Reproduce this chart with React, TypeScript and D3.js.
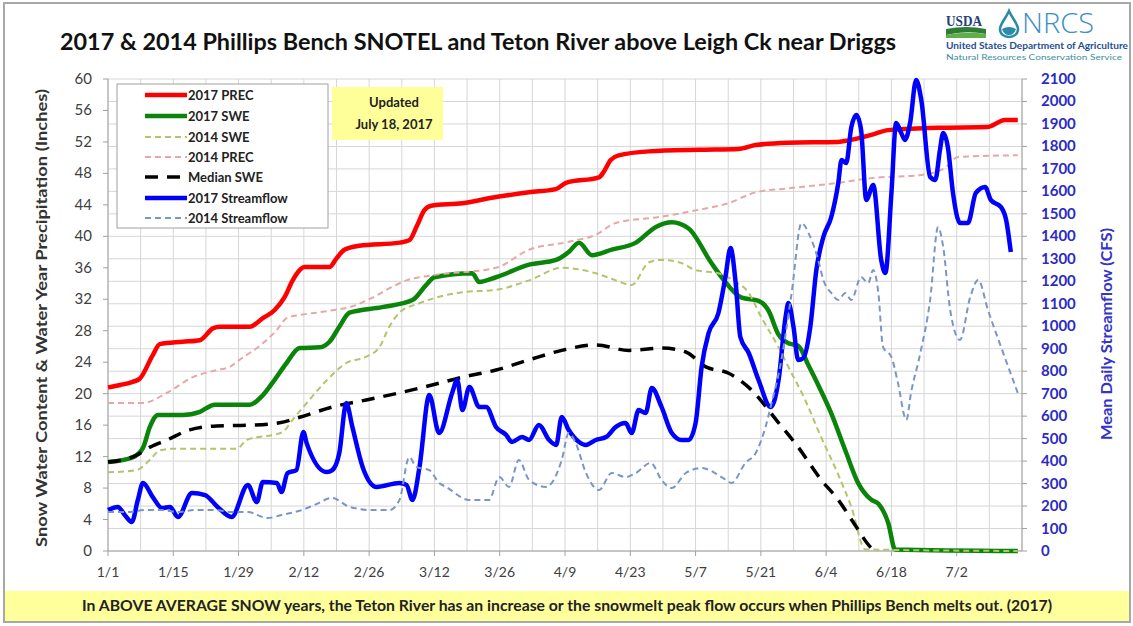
import React from 'react';
import * as d3 from 'd3';

const W = 1133;
const H = 626;

// ---------- DATA (day index from Jan 1, value) ----------
const xTickDays = [0, 14, 28, 42, 56, 70, 84, 98, 112, 126, 140, 154, 168, 182];
const xTickLabels = ['1/1', '1/15', '1/29', '2/12', '2/26', '3/12', '3/26', '4/9', '4/23', '5/7', '5/21', '6/4', '6/18', '7/2'];
const leftTicks = [0, 4, 8, 12, 16, 20, 24, 28, 32, 36, 40, 44, 48, 52, 56, 60];
const rightTicks = [0, 100, 200, 300, 400, 500, 600, 700, 800, 900, 1000, 1100, 1200, 1300, 1400, 1500, 1600, 1700, 1800, 1900, 2000, 2100];

const prec2017: [number, number][] = [
  [0, 20.8], [2.6, 21.1], [5.3, 21.5], [6.8, 21.9], [9.6, 24.9], [11.1, 26.3], [16, 26.6], [19.7, 26.8],
  [22.5, 28.3], [24, 28.5], [30.4, 28.5], [33.2, 29.6], [35.7, 30.6], [37.9, 32.3], [39.6, 34.4], [41.1, 35.7],
  [42.1, 36.1], [47.5, 36.1], [49, 37.2], [50.7, 38.3], [53.9, 38.8], [62.5, 39.2], [64.6, 39.5], [66.3, 41.4],
  [67.8, 43.3], [69.3, 43.9], [76, 44.2], [83.2, 45], [90.3, 45.6], [96, 46], [98.2, 46.8], [105.3, 47.5],
  [106.3, 48.2], [107.8, 49.7], [109.5, 50.3], [116, 50.8], [126.7, 51], [135.2, 51.1], [138.9, 51.6],
  [145.9, 51.9], [156.6, 52], [158.8, 52.2], [163.7, 52.9], [167.3, 53.5], [178, 53.8], [188.7, 53.9],
  [192.3, 54.8], [195.1, 54.8],
];

const swe2017: [number, number][] = [
  [0, 11.3], [5.3, 11.9], [7.5, 13.1], [9, 15.8], [10.7, 17.3], [16, 17.3], [19.7, 17.7], [22.9, 18.6],
  [30.4, 18.6], [33.2, 19.8], [35.3, 21.4], [38.3, 23.9], [41.1, 25.8], [45.4, 25.9], [47.5, 26.6],
  [49.6, 28.5], [51.8, 30.3], [58.8, 31], [65.3, 31.9], [68.2, 33.8], [70, 34.8], [78.1, 35.3], [79.6, 34.2],
  [83.2, 34.8], [90.3, 36.4], [96.1, 37], [98.8, 38], [101, 39.2], [103.8, 37.6], [108, 38.3], [113.2, 39.2],
  [117.5, 41.2], [120.9, 41.8], [124.5, 41], [129.4, 36.6], [131.6, 34.8], [135.9, 32.2], [139.5, 31.8],
  [141.6, 30.6], [143.8, 27.5], [145.9, 26.4], [148, 26.1], [150.2, 23.6], [152.3, 21.1], [155.1, 17.5],
  [158.1, 12.8], [160.9, 8.6], [163.7, 6.5], [165.2, 6], [167.3, 3.6], [168.8, 0.2], [195.1, 0],
];

const swe2014: [number, number][] = [
  [0, 10], [6.2, 10.3], [9, 11.6], [11.1, 12.8], [13.9, 13], [27.6, 13], [29.7, 14.1], [37.4, 15.1],
  [39.6, 16.7], [42.6, 18.8], [46.9, 21.7], [51.1, 23.9], [55.4, 24.7], [58.2, 25.9], [60.3, 28.5],
  [62.5, 30.3], [66.8, 31.5], [76, 32.9], [83.2, 33.2], [90.3, 34.4], [97.3, 36], [104.6, 35.3],
  [108.9, 34.4], [112.3, 33.8], [116, 36.7], [118.7, 37], [123, 36.6], [126, 35.7], [130.9, 35.3],
  [134.1, 34.4], [137.4, 32.8], [140.1, 29.7], [143.8, 25.9], [145.9, 23.4], [149.5, 19.2], [152.9, 14.5],
  [156.6, 9.7], [159.4, 5.6], [162.4, 0.2], [195.1, 0],
];

const prec2014: [number, number][] = [
  [0, 18.8], [7.5, 18.8], [12.6, 20.1], [18.2, 22.1], [23.3, 23], [26.1, 23.4], [28.2, 24.3], [33.2, 26.4],
  [36.2, 28.1], [38.3, 29.6], [41.1, 30], [44.7, 30.3], [48.1, 30.6], [51.8, 31], [56.7, 32.2], [61, 33.6],
  [64, 34.4], [68.9, 35], [83.2, 36], [90.3, 38.3], [98.8, 39.3], [104.6, 40.2], [108.9, 41.7], [118.7, 42.5],
  [126, 43.3], [133, 44.2], [138.9, 45.6], [145.9, 46.1], [156.6, 46.8], [163.7, 47.4], [174.4, 47.8],
  [179.5, 48.7], [182.3, 50.1], [195.1, 50.3],
];

const medianSwe: [number, number][] = [
  [0, 11.3], [6.2, 12.2], [9, 13.2], [12.6, 14.1], [17.5, 15.4], [23.3, 15.9], [30.4, 16], [36.8, 16.3],
  [41.1, 17], [48.1, 18.3], [55.4, 19.2], [62.5, 20.1], [69.5, 21.1], [76, 22.1], [83.2, 23], [90.3, 24.3],
  [97.3, 25.5], [104.6, 26.2], [111.7, 25.5], [118.7, 25.8], [123.9, 25.3], [128.2, 23.4], [133.1, 22.6],
  [137.4, 20.8], [143.8, 16.3], [148, 13.2], [153, 9], [156.6, 6.5], [160.2, 3.3], [163.7, 0.4], [164.7, 0],
];

const flow2017: [number, number][] = [
  [0, 182], [2.1, 196], [3.6, 160], [5.1, 129], [6.4, 227], [7.5, 303], [9.6, 240], [11.6, 191], [13.3, 196],
  [15, 151], [18, 258], [20.8, 249], [23.5, 196], [26.5, 151], [30, 294], [31.9, 218], [33.2, 307],
  [36.2, 303], [37.2, 262], [38.5, 347], [40.4, 360], [41.9, 530], [42.6, 480], [46.9, 351], [48.1, 360],
  [49.6, 436], [51.1, 658], [52.4, 552], [54.6, 374], [57.6, 285], [62.5, 303], [64, 294], [65.3, 227],
  [66.8, 374], [68.9, 694], [71, 525], [73.8, 703], [74.9, 761], [76, 627], [77.5, 730], [79.6, 641],
  [81.1, 641], [83.2, 552], [85.4, 516], [86.6, 485], [88.8, 507], [90.3, 494], [92.4, 561], [94.6, 494],
  [96.1, 472], [97.3, 596], [98.8, 538], [101, 485], [102.5, 472], [104.6, 494], [106.8, 507], [108.9, 552],
  [111, 569], [112.3, 525], [113.8, 627], [115.3, 614], [116.6, 725], [118.7, 641], [120.9, 525], [123, 494],
  [124.5, 494], [126, 569], [127.3, 819], [128.8, 970], [130.9, 1059], [132.4, 1219], [133.5, 1348],
  [134.6, 1192], [135.6, 952], [137.4, 881], [139.5, 761], [142.1, 641], [143.8, 761], [145.3, 1041],
  [145.9, 1103], [147, 997], [148, 850], [149.1, 859], [150.6, 997], [151.9, 1250], [153.4, 1397],
  [155.1, 1486], [156.6, 1637], [157.3, 1740], [158.3, 1726], [159.4, 1886], [160.5, 1940], [161.5, 1873],
  [162.6, 1562], [164.1, 1628], [165.8, 1295], [166.7, 1237], [168, 1593], [169, 1904], [170.1, 1860],
  [170.9, 1829], [172, 1904], [173.3, 2096], [174.4, 2007], [176.3, 1664], [177.4, 1651], [178.4, 1784],
  [179.1, 1860], [180.1, 1797], [181.2, 1593], [182.7, 1459], [184.4, 1459], [186.1, 1593], [188.1, 1620],
  [189.3, 1562], [191.5, 1530], [192.6, 1473], [193.6, 1330],
];

const flow2014: [number, number][] = [
  [0, 173], [4.3, 173], [7.9, 182], [11.6, 182], [15, 173], [18.6, 182], [22.9, 182], [26.5, 173], [30, 173],
  [34.2, 147], [37.2, 160], [41.5, 182], [44.3, 205], [48.1, 236], [51.8, 196], [56.7, 182], [60.3, 182],
  [62.5, 227], [64.6, 418], [66.1, 374], [68.9, 360], [71, 303], [72.5, 285], [77.5, 227], [81.7, 227],
  [83.9, 329], [86, 285], [88.1, 405], [90.3, 316], [93.9, 285], [97.3, 405], [98.8, 525], [100.3, 480],
  [102.5, 347], [105.3, 271], [108, 347], [111, 329], [113.2, 347], [116.4, 392], [118.7, 316], [120.9, 280],
  [123.9, 347], [127.3, 369], [131.6, 329], [133.7, 303], [136.7, 392], [138.9, 436], [141, 552], [142.1, 641],
  [144.4, 850], [146.6, 1148], [148.7, 1459], [150.6, 1397], [152.3, 1295], [153.4, 1206], [155.1, 1148],
  [156.6, 1117], [158.1, 1148], [159.4, 1117], [161.5, 1219], [163, 1192], [164.1, 1250], [165.2, 1148],
  [166.2, 908], [168, 863], [169.4, 748], [171.2, 583], [172.2, 703], [174.2, 881], [176.3, 1117], [178, 1441],
  [179.1, 1353], [180.6, 1072], [182.7, 939], [184.9, 1130], [186.6, 1206], [188.7, 1072], [191.5, 908],
  [195.1, 703],
];

const seriesNames = ['2017 PREC', '2017 SWE', '2014 SWE', '2014 PREC', 'Median SWE', '2017 Streamflow', '2014 Streamflow'];

// ---------- LAYOUT ----------
const plotL = 108;
const plotR = 1022;
const plotT = 79;
const plotB = 551;
const FONT = "Lato, 'Open Sans', sans-serif";

const x = d3.scaleLinear().domain([0, 196]).range([plotL, plotR]);
const yL = d3.scaleLinear().domain([0, 60]).range([plotB, plotT]);
const yR = d3.scaleLinear().domain([0, 2100]).range([plotB, plotT]);

const lineL = d3.line<[number, number]>().x(d => x(d[0])).y(d => yL(d[1])).curve(d3.curveMonotoneX);
const lineR = d3.line<[number, number]>().x(d => x(d[0])).y(d => yR(d[1])).curve(d3.curveMonotoneX);

type Style = { color: string; width: number; dash?: string; axis: 'L' | 'R'; data: [number, number][] };
const styles: Style[] = [
  { color: '#ff0000', width: 4.5, axis: 'L', data: prec2017 },
  { color: '#0a850a', width: 4.5, axis: 'L', data: swe2017 },
  { color: '#b4c46c', width: 2, dash: '6 4', axis: 'L', data: swe2014 },
  { color: '#e4a8a8', width: 2, dash: '6 4', axis: 'L', data: prec2014 },
  { color: '#000000', width: 3.5, dash: '13 9', axis: 'L', data: medianSwe },
  { color: '#0000ff', width: 4.5, axis: 'R', data: flow2017 },
  { color: '#7a96c6', width: 2, dash: '6 4', axis: 'R', data: flow2014 },
];

const vGrid = d3.range(0, 197, 7);

export default function App() {
  const legendRows = [95, 116, 137, 157, 177, 198, 218];
  return (
    <svg width={W} height={H} viewBox={`0 0 ${W} ${H}`} style={{ position: 'absolute', left: 0, top: 0, background: '#fff' }} fontFamily={FONT}>
      <rect x={0} y={0} width={W} height={H} fill="#fff" />
      <rect x={4} y={3} width={1126} height={619} fill="none" stroke="#a8a8a8" strokeWidth={2} />

      {/* Title */}
      <text x={478} y={50} textAnchor="middle" fontSize={22} fontWeight="bold" fill="#111" textLength={836} lengthAdjust="spacingAndGlyphs">
        2017 &amp; 2014 Phillips Bench SNOTEL and Teton River above Leigh Ck near Driggs
      </text>

      {/* Logo */}
      <g>
        <text x={946} y={26} fontSize={14} fontWeight="bold" fill="#23407a" textLength={36} lengthAdjust="spacingAndGlyphs" fontFamily="'Liberation Serif', serif">USDA</text>
        <path d="M946,29 Q966,25 986,29 L986,34 Q966,30 946,35 Z" fill="#2f7d32" />
        <path d="M946,35 Q966,31 986,34 L986,38 L946,38 Z" fill="#5fae4a" />
        <path d="M1009,11 C1006,18 1000,24 1000,29 C1000,34 1004,37 1009,37 C1014,37 1018,34 1018,29 C1018,24 1012,18 1009,11 Z" fill="none" stroke="#2a8aa8" strokeWidth={2.5} />
        <path d="M1002,29 Q1009,25 1016,29 Q1014,35 1009,35 Q1004,35 1002,29 Z" fill="#2a8aa8" />
        <text x={1022} y={33} fontSize={28} fontWeight={300} fill="#3d8fc4" textLength={72} lengthAdjust="spacingAndGlyphs" fontFamily="'Open Sans', sans-serif">NRCS</text>
        <text x={946} y={49} fontSize={8.5} fontWeight="bold" fill="#1f4f92" textLength={182} lengthAdjust="spacingAndGlyphs">United States Department of Agriculture</text>
        <text x={946} y={60} fontSize={8} fill="#3a8f9c" textLength={176} lengthAdjust="spacingAndGlyphs">Natural Resources Conservation Service</text>
      </g>

      {/* Grid */}
      <g stroke="#d6d6d6" strokeWidth={1}>
        {vGrid.map(d => (
          <line key={'v' + d} x1={x(d)} x2={x(d)} y1={plotT} y2={plotB} />
        ))}
        {rightTicks.map(t => (
          <line key={'h' + t} x1={plotL} x2={plotR} y1={yR(t)} y2={yR(t)} />
        ))}
      </g>

      {/* Axes */}
      <g stroke="#a0a0a0" strokeWidth={1}>
        <line x1={plotL} x2={plotL} y1={plotT} y2={plotB} />
        <line x1={plotR} x2={plotR} y1={plotT} y2={plotB} />
        <line x1={plotL} x2={plotR} y1={plotB} y2={plotB} />
        {leftTicks.map(t => (
          <line key={'lt' + t} x1={plotL - 5} x2={plotL} y1={yL(t)} y2={yL(t)} />
        ))}
        {rightTicks.map(t => (
          <line key={'rt' + t} x1={plotR} x2={plotR + 5} y1={yR(t)} y2={yR(t)} />
        ))}
        {xTickDays.map(d => (
          <line key={'xt' + d} x1={x(d)} x2={x(d)} y1={plotB} y2={plotB + 5} />
        ))}
      </g>

      {/* Left tick labels */}
      <g fontSize={15} fill="#404040" textAnchor="end">
        {leftTicks.map(t => (
          <text key={'ll' + t} x={92} y={yL(t) + 5}>{t}</text>
        ))}
      </g>
      {/* Right tick labels */}
      <g fontSize={15} fill="#2b2bc4" fontWeight="bold" textAnchor="start">
        {rightTicks.map(t => (
          <text key={'rl' + t} x={1041} y={yR(t) + 5}>{t}</text>
        ))}
      </g>
      {/* X tick labels */}
      <g fontSize={14} fill="#404040" textAnchor="middle">
        {xTickDays.map((d, i) => (
          <text key={'xl' + d} x={x(d)} y={577}>{xTickLabels[i]}</text>
        ))}
      </g>

      {/* Axis titles */}
      <text transform="translate(47,318) rotate(-90)" textAnchor="middle" fontSize={16} fontWeight="bold" fill="#333" textLength={458} lengthAdjust="spacingAndGlyphs">
        Snow Water Content &amp; Water Year Precipitation (Inches)
      </text>
      <text transform="translate(1112,334) rotate(-90)" textAnchor="middle" fontSize={16} fontWeight="bold" fill="#3434c8" textLength={212} lengthAdjust="spacingAndGlyphs">
        Mean Daily Streamflow (CFS)
      </text>

      {/* Series */}
      <g fill="none" strokeLinejoin="round" strokeLinecap="butt">
        {styles.map((s, i) => (
          <path key={'s' + i} d={(s.axis === 'L' ? lineL : lineR)(s.data) || ''} stroke={s.color} strokeWidth={s.width} strokeDasharray={s.dash} />
        ))}
      </g>

      {/* Legend */}
      <rect x={117} y={84} width={211} height={144} fill="#fff" stroke="#a0a0a0" strokeWidth={1} />
      {seriesNames.map((n, i) => {
        const s = styles[i];
        const yy = legendRows[i];
        return (
          <g key={'lg' + i}>
            <line x1={145} x2={187} y1={yy} y2={yy} stroke={s.color} strokeWidth={s.width} strokeDasharray={s.dash} />
            <text x={188} y={yy + 4.5} fontSize={13} fontWeight="bold" fill="#222">{n}</text>
          </g>
        );
      })}

      {/* Updated box */}
      <rect x={332} y={87} width={111} height={53} fill="#ffff99" />
      <text x={394} y={107} textAnchor="middle" fontSize={13} fontWeight="bold" fill="#222">Updated</text>
      <text x={394} y={129} textAnchor="middle" fontSize={13} fontWeight="bold" fill="#222">July 18, 2017</text>

      {/* Footer */}
      <rect x={5} y={591} width={1124} height={30} fill="#ffff9c" />
      <text x={567} y={611} textAnchor="middle" fontSize={15} fontWeight="bold" fill="#222" textLength={970} lengthAdjust="spacingAndGlyphs">
        In ABOVE AVERAGE SNOW years, the Teton River has an increase or the snowmelt peak flow occurs when Phillips Bench melts out. (2017)
      </text>
    </svg>
  );
}
